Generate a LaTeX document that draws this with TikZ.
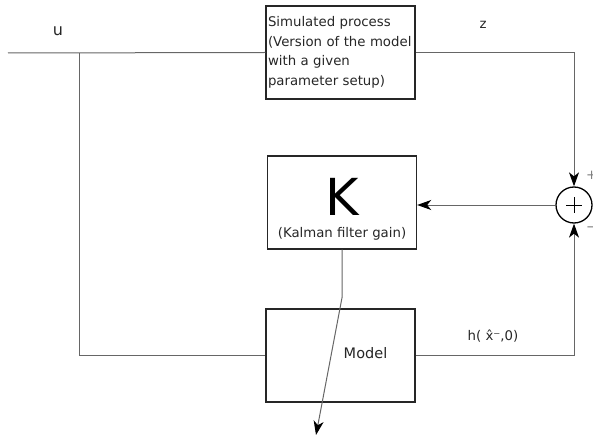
\documentclass[tikz,border=0pt]{standalone}
\usepackage{fontspec}
\setmainfont{DejaVu Sans}
\usetikzlibrary{arrows.meta, calc, positioning}

\begin{document}
\begin{tikzpicture}[x=1pt, y=-1pt,
    block/.style={draw=black!85, line width=1.4pt, minimum width=149pt, minimum height=93pt, inner sep=0pt},
    wire/.style={draw=black!60, line width=1pt},
    arrow/.style={wire, -{Stealth[length=14pt, width=10pt, inset=4pt, color=black]}},
    txt/.style={font=\fontsize{13.3}{19.5}\selectfont, text=black!85}]

    \useasboundingbox (0,0) rectangle (593,438);

    % Blocks
    \node[block, txt, align=left, text width=145pt, inner xsep=2pt] (proc) at (340.5,52.5) {Simulated process\\(Version of the model\\with a given\\parameter setup)};
    \node[block] (kgain) at (342,202.5) {};
    \node[block] (model) at (340.5,355.5) {};
    \node[circle, draw, line width=1.3pt, minimum size=36pt, inner sep=0pt] (sum) at (574,205) {};
    \draw[line width=0.6pt] ($(sum.center)+(-8,0)$) -- ($(sum.center)+(8,0)$); % plus sign
    \draw[line width=0.6pt] ($(sum.center)+(0,-8)$) -- ($(sum.center)+(0,8)$);

    % Texts in the blocks
    \node[font=\fontsize{51}{51}\selectfont, anchor=base] (kletter) at (342,215) {K};
    \node[txt, anchor=base] (kcap) at (342,237) {(Kalman filter gain)};
    \node[font=\fontsize{14.5}{17}\selectfont, text=black!85, anchor=base] (mlabel) at (365.5,358) {Model};

    % Signals
    \coordinate (uin) at (8,53);
    \coordinate (branch) at (79,53);
    \coordinate (kout) at (316,435);
    \draw[wire] (uin) -- (proc.west); % input u
    \draw[wire] (branch) -- (branch |- model.west) -- (model.west);
    \draw[arrow] (proc.east) -- (sum.north |- proc.east) -- (sum.north); % z
    \draw[arrow] (model.east) -- (sum.south |- model.east) -- (sum.south);
    \draw[arrow] (sum.west) -- (kgain.east |- sum.west);
    \draw[arrow] (kgain.south) -- ++(0,48) -- (kout);

    % Labels
    \node[font=\fontsize{16}{19}\selectfont, text=black!85, anchor=base] (ulabel) at (58,36) {u};
    \node[txt, anchor=base] (zlabel) at (483,29) {z};
    \node[txt, anchor=base] (hlabel) at (493,340) {h( x̂⁻,0)};
    \node[txt, text=black!50, anchor=west, inner sep=0pt] (plus) at (586,175) {+};
    \node[txt, text=black!50, anchor=west, inner sep=0pt] (minus) at (586,229) {−};

\end{tikzpicture}
\end{document}
